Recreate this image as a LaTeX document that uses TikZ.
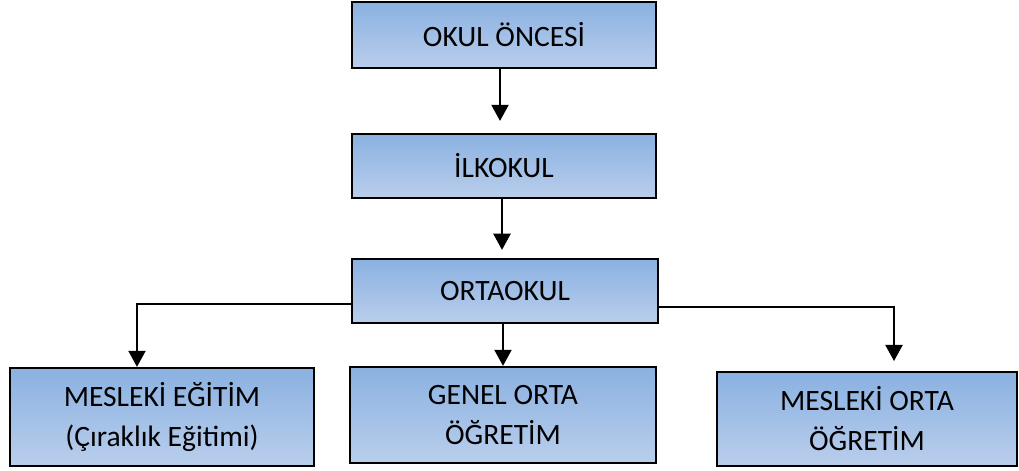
\documentclass[tikz,border=0pt]{standalone}
\usepackage{fontspec}
\setmainfont{Carlito}
\usepackage{tikz}
\usetikzlibrary{positioning,arrows.meta,calc}

\definecolor{boxtop}{RGB}{138,177,225}
\definecolor{boxbottom}{RGB}{186,206,236}

\begin{document}
\begin{tikzpicture}[x=0.025cm, y=-0.025cm,
  every node/.style={draw, line width=1.5pt, top color=boxtop, bottom color=boxbottom,
    align=center, font=\fontsize{21}{28.5}\selectfont, inner sep=0pt},
  link/.style={draw, line width=1.9pt, -{Triangle[length=11.5pt, width=12pt]}}]
  \useasboundingbox (0,0) rectangle (1019,471);

  \node[minimum width=7.6cm, minimum height=1.65cm] (okul) at (504,35) {OKUL ÖNCESİ};
  \node[minimum width=7.6cm, minimum height=1.6cm] (ilk) at (504,166) {İLKOKUL};
  \node[minimum width=7.65cm, minimum height=1.6cm] (orta) at (505,291) {ORTAOKUL};

  \node[minimum width=7.6cm, minimum height=2.45cm] (mesleki) at (162,417) {MESLEKİ EĞİTİM\\(Çıraklık Eğitimi)};
  \node[minimum width=7.65cm, minimum height=2.4cm] (genel) at (503,415) {GENEL ORTA\\ÖĞRETİM};
  \node[minimum width=7.5cm, minimum height=2.35cm] (meslekiorta) at (867,419) {MESLEKİ ORTA\\ÖĞRETİM};

  \draw[link, shorten >=8.5pt] ($(okul.south)+(-4,0)$) -- ($(ilk.north)+(-4,0)$);
  \draw[link, shorten >=5.7pt] ($(ilk.south)+(-2,0)$) -- ($(orta.north)+(-3,0)$);
  \draw[link] ($(orta.south)+(-2,0)$) -- ($(genel.north)+(0,0)$);
  \draw[link] ($(orta.west)+(0,13)$) -| ($(mesleki.north)+(-25,0)$);
  \draw[link, shorten >=7pt] ($(orta.east)+(0,16)$) -| ($(meslekiorta.north)+(27,0)$);
\end{tikzpicture}
\end{document}
